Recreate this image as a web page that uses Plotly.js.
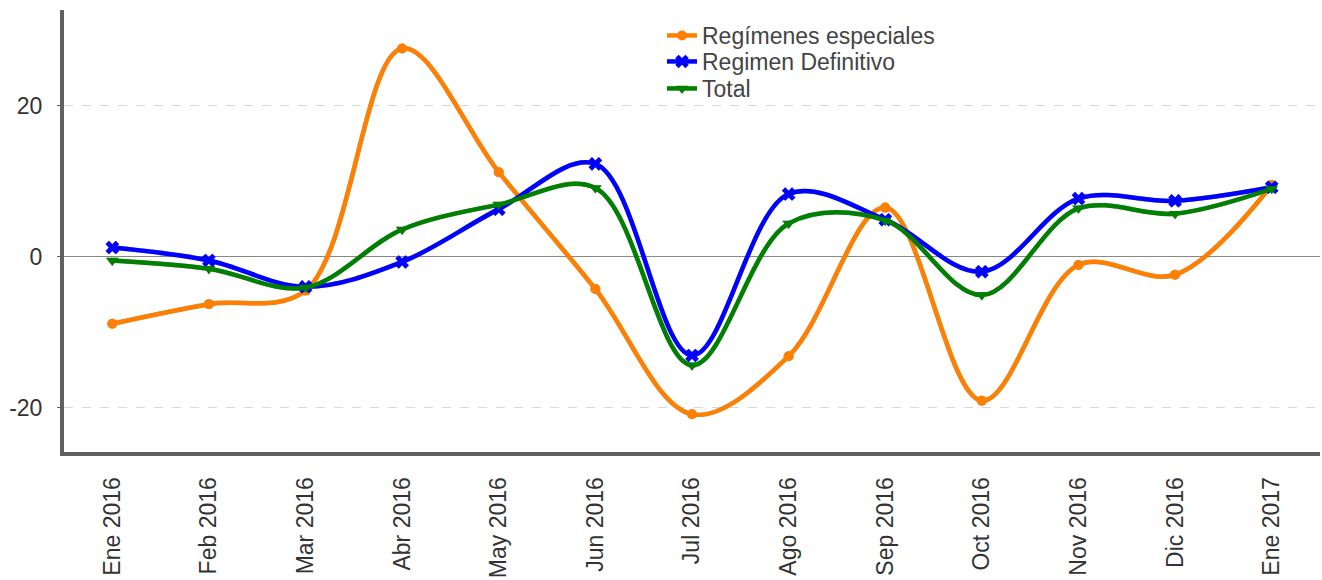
<!DOCTYPE html>
<html>
<head>
<meta charset="utf-8">
<script src="https://cdn.plot.ly/plotly-3.0.1.min.js"></script>
<style>html,body{margin:0;padding:0;background:#fff;}#chart{width:1322px;height:580px;}</style>
</head>
<body>
<div id="chart"></div>
<script>
const categories = ["Ene 2016","Feb 2016","Mar 2016","Abr 2016","May 2016","Jun 2016","Jul 2016","Ago 2016","Sep 2016","Oct 2016","Nov 2016","Dic 2016","Ene 2017"];
const regimenesEspeciales = [-8.9, -6.3, -4.5, 27.6, 11.2, -4.3, -20.9, -13.2, 6.5, -19.1, -1.1, -2.4, 9.5];
const regimenDefinitivo = [1.2, -0.5, -4.0, -0.7, 6.3, 12.3, -13.1, 8.3, 4.9, -2.0, 7.7, 7.4, 9.2];
const total = [-0.5, -1.6, -4.1, 3.6, 6.9, 9.1, -14.4, 4.4, 4.8, -5.1, 6.4, 5.7, 9.0];
const seriesNames = ["Regímenes especiales", "Regimen Definitivo", "Total"];

const colors = ["#FF8000", "#0000FF", "#008000"];
const symbols = ["circle", "x", "triangle-down"];
const sizes = [10, 12, 11];
const allSeries = [regimenesEspeciales, regimenDefinitivo, total];
const idx = categories.map((c, i) => i);
const legendIds = ['legend', 'legend2', 'legend3'];

const traces = [];
// shadows on the main (bottom) subplot
allSeries.forEach((s, k) => {
  traces.push({
    x: idx, y: s, xaxis: 'x', yaxis: 'y', type: 'scatter', mode: 'lines+markers',
    line: {shape: 'spline', smoothing: 1, width: 4.5, color: 'rgba(110,110,110,0.6)'},
    marker: {symbol: symbols[k], size: sizes[k], color: 'rgba(110,110,110,0.6)', line: {width: 0}},
    showlegend: false, hoverinfo: 'skip'
  });
});
// coloured series on the overlay subplot
allSeries.forEach((s, k) => {
  traces.push({
    x: idx, y: s, xaxis: 'x2', yaxis: 'y2', type: 'scatter', mode: 'lines+markers', name: seriesNames[k],
    legend: legendIds[k],
    line: {shape: 'spline', smoothing: 1, width: 4.5, color: colors[k]},
    marker: {symbol: symbols[k], size: sizes[k], color: colors[k], line: {width: 0}}
  });
});

const W = 1322, H = 580;
const ml = 62, mr = 2, mt = 7, mb = 128;
const pw = W - ml - mr, ph = H - mt - mb;
const ex = 2 / pw, ey = 3 / ph;
const yr = [-25.9, 32.7];
const legTop = [14, 40, 67];
const legFont = {size: 23, color: '#444'};
function legendAt(px) {
  return {x: (662 - ml) / pw, y: 1 - (px - mt) / ph, xanchor: 'left', yanchor: 'top',
          bgcolor: 'rgba(0,0,0,0)', font: legFont};
}

const layout = {
  width: W, height: H,
  margin: {l: ml, r: mr, t: mt, b: mb, pad: 0},
  paper_bgcolor: '#fff', plot_bgcolor: '#fff',
  font: {family: 'Liberation Sans, Arial, sans-serif', size: 23, color: '#333'},
  showlegend: true,
  legend: legendAt(legTop[0]),
  legend2: legendAt(legTop[1]),
  legend3: legendAt(legTop[2]),
  xaxis: {domain: [ex, 1], range: [-0.5, 12.5], visible: false, fixedrange: true},
  yaxis: {domain: [0, 1 - ey], range: yr, visible: false, fixedrange: true},
  xaxis2: {
    domain: [0, 1 - ex], range: [-0.5, 12.5], overlaying: 'x', anchor: 'y2', side: 'bottom',
    tickmode: 'array', tickvals: idx, ticktext: categories,
    tickangle: -90, showgrid: false, zeroline: false, showline: true, linecolor: '#606060', linewidth: 4,
    ticks: '', tickfont: {size: 23, color: '#333'}, ticklabelstandoff: 12, fixedrange: true
  },
  yaxis2: {
    domain: [ey, 1], range: yr, overlaying: 'y', anchor: 'x2', side: 'left',
    tickvals: [-20, 0, 20], ticktext: ['-20', '0', '20'],
    showgrid: true, gridcolor: '#d8d8d8', griddash: 'dash', gridwidth: 1,
    zeroline: true, zerolinecolor: '#888', zerolinewidth: 1,
    showline: true, linecolor: '#606060', linewidth: 4, ticks: 'outside', ticklen: 3, tickcolor: '#606060',
    tickfont: {size: 23, color: '#333'}, ticklabelstandoff: 10, fixedrange: true
  }
};

Plotly.newPlot('chart', traces, layout, {displayModeBar: false, staticPlot: true});
</script>
</body>
</html>
